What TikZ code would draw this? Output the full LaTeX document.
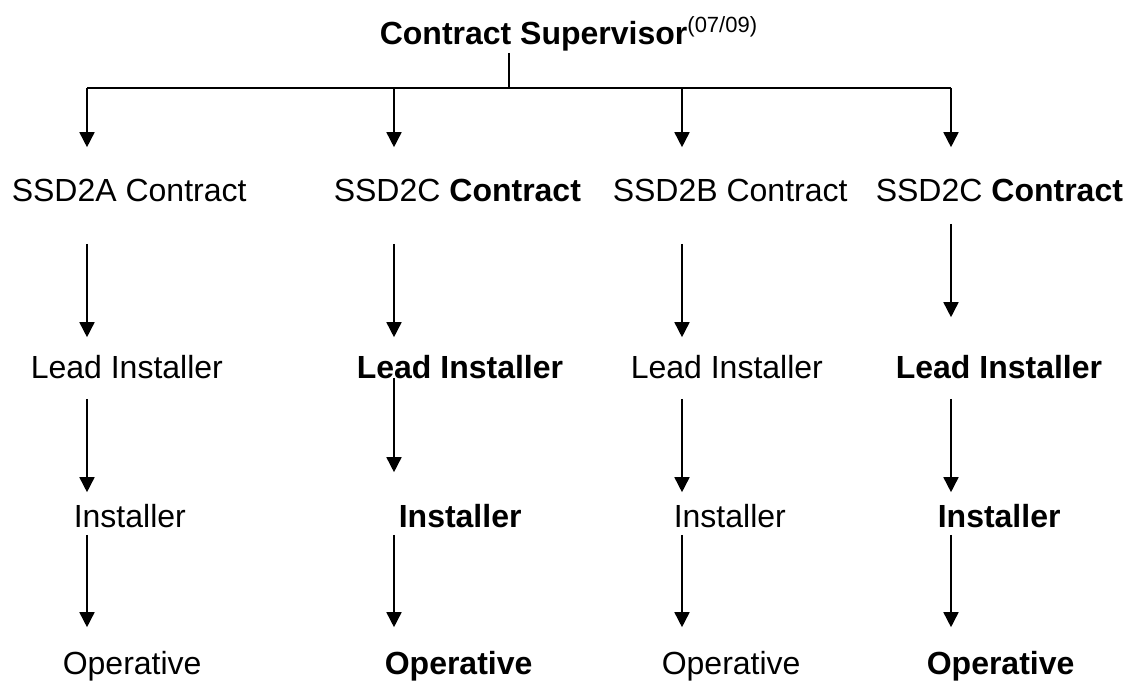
\documentclass[tikz,border=0pt]{standalone}
\usepackage{fontspec}
\setmainfont{Liberation Sans}
\usetikzlibrary{arrows.meta}

\begin{document}
\begin{tikzpicture}[x=1pt, y=-1pt, line width=1.6pt,
    >={Triangle[width=15pt,length=15pt]},
    role/.style={anchor=base west, inner sep=0pt, text height=23pt, text depth=7pt,
      font=\fontsize{32}{38}\selectfont}]
    \useasboundingbox (0,0) rectangle (1128,682);

    % column axes and the fork point
    \coordinate (k1)  at (87,0);
    \coordinate (k2)  at (394,0);
    \coordinate (k3)  at (682,0);
    \coordinate (k4)  at (951,0);
    \coordinate (hub) at (509,88);

    % head
    \node[role] (head) at (379,45)
        {\textbf{Contract Supervisor}\raisebox{12pt}{\fontsize{22}{24}\selectfont (07/09)}};

    % contracts
    \node[role] (a1) at (11,201)  {SSD2A Contract};
    \node[role] (a2) at (333,201) {SSD2C \textbf{Contract}};
    \node[role] (a3) at (612,201) {SSD2B Contract};
    \node[role] (a4) at (875,201) {SSD2C \textbf{Contract}};

    % lead installers
    \node[role] (b1) at (30,378)  {Lead Installer};
    \node[role] (b2) at (356,378) {\textbf{Lead Installer}};
    \node[role] (b3) at (630,378) {Lead Installer};
    \node[role] (b4) at (895,378) {\textbf{Lead Installer}};

    % installers
    \node[role] (c1) at (73,527)  {Installer};
    \node[role] (c2) at (398,527) {\textbf{Installer}};
    \node[role] (c3) at (673,527) {Installer};
    \node[role] (c4) at (937,527) {\textbf{Installer}};

    % operatives
    \node[role] (d1) at (62,674)  {Operative};
    \node[role] (d2) at (384,674) {\textbf{Operative}};
    \node[role] (d3) at (661,674) {Operative};
    \node[role] (d4) at (926,674) {\textbf{Operative}};

    % fork from the head
    \draw (head.south -| hub) -- (hub);
    \draw (k1 |- hub) -- (k4 |- hub);
    \foreach \i in {1,...,4}
        \draw[->, shorten >=30pt] (k\i |- hub) -- (k\i |- a\i.north);

    % contract -> lead installer
    \foreach \i in {1,2,3}
        \draw[->, shorten <=35pt, shorten >=17pt] (k\i |- a\i.south) -- (k\i |- b\i.north);
    \draw[->, shorten <=15pt, shorten >=37pt] (k4 |- a4.south) -- (k4 |- b4.north);

    % lead installer -> installer
    \foreach \i in {1,3,4}
        \draw[->, shorten <=13pt, shorten >=11pt] (k\i |- b\i.south) -- (k\i |- c\i.north);
    \draw[->, shorten <=-8pt, shorten >=31pt] (k2 |- b2.south) -- (k2 |- c2.north);

    % installer -> operative
    \foreach \i in {1,...,4}
        \draw[->, shorten >=23pt] (k\i |- c\i.south) -- (k\i |- d\i.north);
\end{tikzpicture}
\end{document}
